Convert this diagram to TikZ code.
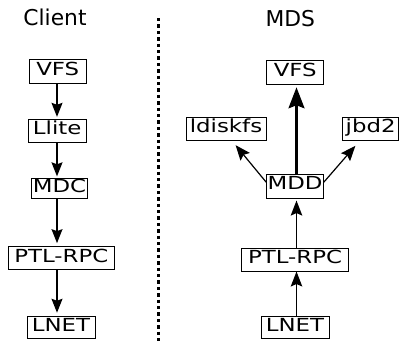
\documentclass[tikz,border=0pt]{standalone}
\usepackage{fontspec}
\usetikzlibrary{arrows.meta}
\newfontfamily\titlefont{DejaVu Sans}
\newfontfamily\boxfont[FakeStretch=1.27]{DejaVu Sans}
\begin{document}
\begin{tikzpicture}[x=1pt,y=-1pt,
  title/.style={font=\titlefont\fontsize{21.8pt}{24pt}\selectfont, inner sep=0pt, anchor=base},
  layer/.style={draw, line width=1pt, inner sep=0pt,
    font=\boxfont\fontsize{18pt}{19pt}\selectfont,
    text height=0.74em, text depth=0pt},
  carrow/.style={line width=1.4pt, -{Stealth[length=14pt,width=11pt,inset=2pt]}},
  marrow/.style={line width=1.4pt, -{Stealth[length=15pt,width=11.5pt,inset=2.5pt]}},
  bigarrow/.style={line width=2.2pt, -{Stealth[length=21pt,width=16pt,inset=3pt]}},
  sidearrow/.style={line width=1.2pt, -{Stealth[length=15pt,width=12pt,inset=2.5pt]}},
  sep/.style={line width=3.6pt, dash pattern=on 3.4pt off 3pt}
]
\useasboundingbox (0,0) rectangle (399,341);

% titles
\node[title] (tclient) at (55,25.5) {Client};
\node[title] (tmds) at (290.3,26.5) {MDS};

% separator
\coordinate (septop) at (158.5,18);
\coordinate (sepbot) at (158.5,341);
\draw[sep] (septop) -- (sepbot);

% client column
\coordinate (ca) at (57,0);
\node[layer, minimum width=56.7pt, minimum height=24pt] (cvfs) at (57.7,71.3) {VFS};
\node[layer, minimum width=57.7pt, minimum height=23.4pt] (cllite) at (57.2,131) {Llite};
\node[layer, minimum width=55.6pt, minimum height=20pt] (cmdc) at (59.5,188.3) {MDC};
\node[layer, minimum width=106pt, minimum height=23.3pt] (cptl) at (61.3,258.3) {PTL-RPC};
\node[layer, minimum width=68pt, minimum height=22.5pt] (clnet) at (61,327.5) {LNET};

\draw[carrow, shorten >=2pt] (cvfs.south -| ca) -- (cllite.north -| ca);
\draw[carrow, shorten >=1.5pt] (cllite.south -| ca) -- (cmdc.north -| ca);
\draw[carrow, shorten >=3pt] (cmdc.south -| ca) -- (cptl.north -| ca);
\draw[carrow, shorten >=3pt] (cptl.south -| ca) -- (clnet.north -| ca);

% MDS column
\coordinate (ma) at (296.5,0);
\node[layer, minimum width=57.3pt, minimum height=23.6pt] (mvfs) at (295.3,72.5) {VFS};
\node[layer, minimum width=80pt, minimum height=22.7pt] (mld) at (226,128.7) {ldiskfs};
\node[layer, minimum width=55.5pt, minimum height=22.7pt] (mjbd) at (370.6,128.7) {jbd2};
\node[layer, minimum width=56.7pt, minimum height=24.3pt] (mmdd) at (295,186.2) {MDD};
\node[layer, minimum width=106.6pt, minimum height=23pt] (mptl) at (295,259.5) {PTL-RPC};
\node[layer, minimum width=68pt, minimum height=22.3pt] (mlnet) at (295,327.8) {LNET};

\draw[bigarrow, shorten >=2.5pt] (mmdd.north -| ma) -- (mvfs.south -| ma);
\draw[marrow, shorten >=1.7pt] (mptl.north -| ma) -- (mmdd.south -| ma);
\draw[marrow] (mlnet.north -| ma) -- (mptl.south -| ma);
\draw[sidearrow, shorten >=6pt] (mmdd.172) -- (mld.-64);
\draw[sidearrow, shorten >=7pt] (mmdd.8) -- (mjbd.-132);
\end{tikzpicture}
\end{document}
